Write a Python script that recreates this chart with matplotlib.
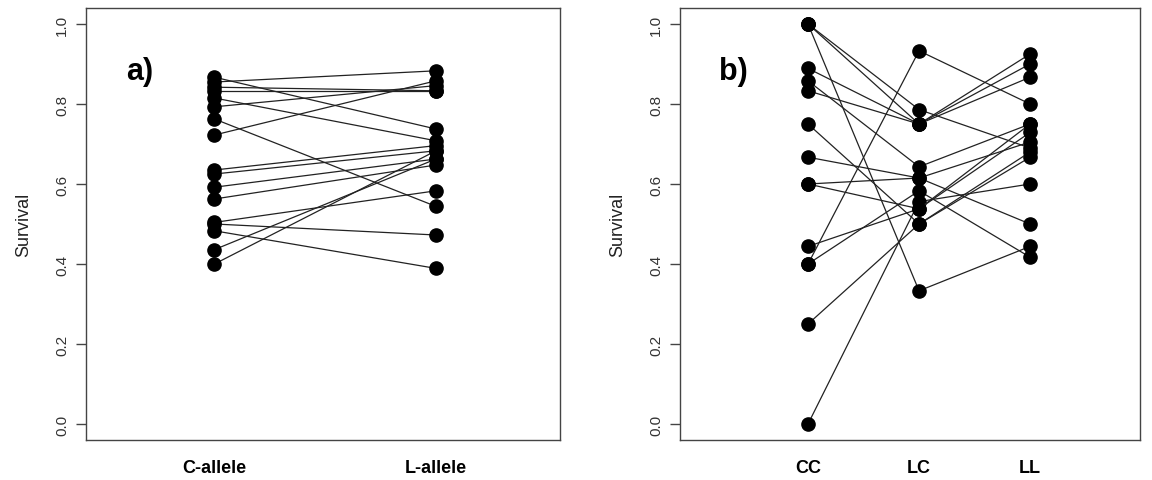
import matplotlib
matplotlib.use("Agg")
import matplotlib.pyplot as plt

plt.rcParams['font.family'] = ['Liberation Sans', 'DejaVu Sans']

# Panel a: C-allele vs L-allele survival (paired)
a_labels = ["C-allele", "L-allele"]
a_C = [0.867, 0.855, 0.842, 0.833, 0.815, 0.793, 0.7625, 0.7225,
       0.635, 0.625, 0.592, 0.5625, 0.504, 0.500, 0.483, 0.436, 0.400]
a_L = [0.7375, 0.883, 0.833, 0.833, 0.708, 0.846, 0.544, 0.858,
       0.696, 0.683, 0.6625, 0.6475, 0.583, 0.4725, 0.389, 0.6625, 0.683]

# Panel b: CC, LC, LL genotypes (paired families)
b_labels = ["CC", "LC", "LL"]
b_CC = [1.0, 1.0, 1.0, 0.889, 0.833, 0.858, 0.6, 0.667, 0.4, 0.4,
        0.0, 0.6, 0.444, 0.75, 0.25]
b_LC = [0.786, 0.75, 0.333, 0.75, 0.75, 0.643, 0.615, 0.615, 0.933, 0.583,
        0.556, 0.538, 0.538, 0.5, 0.5]
b_LL = [0.69, 0.925, 0.444, 0.90, 0.867, 0.75, 0.5, 0.705, 0.80, 0.417,
        0.60, 0.729, 0.75, 0.667, 0.68]

yticks = [0.0, 0.2, 0.4, 0.6, 0.8, 1.0]

W, H = 1152, 481
fig = plt.figure(figsize=(W/100, H/100), dpi=100)

def px_axes(l, r, t, b):
    return fig.add_axes([l/W, 1-b/H, (r-l)/W, (b-t)/H])

axa = px_axes(86, 560, 9, 441)
axb = px_axes(680, 1140, 9, 441)

edge = '#444444'
for ax in (axa, axb):
    for s in ax.spines.values():
        s.set_color(edge)
        s.set_linewidth(1.0)
    ax.set_ylim(-0.04, 1.04)
    ax.set_yticks(yticks)
    ax.set_yticklabels([f"{v:.1f}" for v in yticks], rotation=90, va='center',
                       fontsize=11, color='#333333')
    ax.tick_params(axis='y', length=7, width=1.0, color=edge, pad=5)
    ax.tick_params(axis='x', length=0, pad=14)
    ax.set_ylabel("Survival", fontsize=13, color='#222222', labelpad=17)

# panel a
for c, l in zip(a_C, a_L):
    axa.plot([1, 2], [c, l], color='#222222', lw=0.9, marker='o',
             markersize=9.5, markerfacecolor='black', markeredgecolor='black')
axa.set_xlim(0.42, 2.56)
axa.set_xticks([1, 2])
axa.set_xticklabels(a_labels, fontsize=13, fontweight='bold')
axa.text(0.085, 0.835, "a)", transform=axa.transAxes, fontsize=22, fontweight='bold')

# panel b
for c, m, l in zip(b_CC, b_LC, b_LL):
    axb.plot([1, 2, 3], [c, m, l], color='#222222', lw=0.9, marker='o',
             markersize=9.5, markerfacecolor='black', markeredgecolor='black')
axb.set_xlim(-0.153, 3.99)
axb.set_xticks([1, 2, 3])
axb.set_xticklabels(b_labels, fontsize=13, fontweight='bold')
axb.text(0.085, 0.835, "b)", transform=axb.transAxes, fontsize=22, fontweight='bold')

fig.savefig("out.png", dpi=100, facecolor='white')
